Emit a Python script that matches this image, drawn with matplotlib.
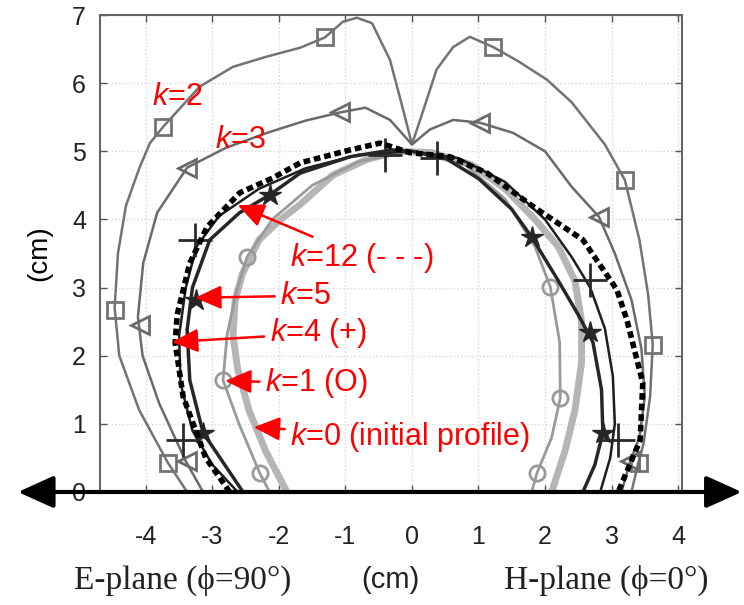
import matplotlib
matplotlib.use("Agg")
import matplotlib.pyplot as plt

plt.rcParams['font.family'] = ['Liberation Sans', 'DejaVu Sans']
plt.rcParams['mathtext.fontset'] = 'custom'
plt.rcParams['mathtext.rm'] = 'Liberation Sans'
plt.rcParams['mathtext.it'] = 'Liberation Sans:italic'
plt.rcParams['axes.unicode_minus'] = False

# profile curves (cm), left bottom -> top -> right bottom
k0_x = [-1.88, -2.2, -2.45, -2.62, -2.69, -2.66, -2.55, -2.3, -2.0, -1.68, -1.19, -0.68, -0.2,
        0.3, 0.9, 1.4, 1.85, 2.2, 2.45, 2.55, 2.55, 2.45, 2.3, 2.1]
k0_y = [0.0, 0.6, 1.2, 1.8, 2.3, 2.8, 3.2, 3.7, 3.98, 4.22, 4.65, 4.88, 5.0,
        4.98, 4.8, 4.45, 4.0, 3.6, 3.1, 2.5, 1.9, 1.2, 0.6, 0.0]

k1_x = [-2.14, -2.29, -2.6, -2.84, -2.78, -2.65, -2.48, -2.1, -1.5, -0.8, 0.0,
        0.8, 1.4, 1.85, 2.08, 2.22, 2.23, 2.1, 1.88, 1.8]
k1_y = [0.0, 0.28, 1.0, 1.64, 2.3, 2.9, 3.45, 4.0, 4.5, 4.85, 5.0,
        4.8, 4.3, 3.6, 3.01, 2.2, 1.38, 0.8, 0.28, 0.0]
k1_mx = [-2.29, -2.84, -2.48, 2.08, 2.23, 1.88]
k1_my = [0.28, 1.64, 3.45, 3.01, 1.38, 0.28]

k2_x = [-3.38, -3.67, -4.1, -4.4, -4.47, -4.42, -4.3, -4.1, -3.94, -3.74, -3.19, -2.69, -2.18,
        -1.68, -1.31, -1.04, -0.83, -0.6, -0.33, -0.13, 0.0, 0.17, 0.37, 0.62, 0.87, 1.22,
        1.6, 2.03, 2.4, 2.9, 3.2, 3.42, 3.55, 3.62, 3.58, 3.48, 3.4, 3.3]
k2_y = [0.0, 0.43, 1.2, 2.0, 2.7, 3.5, 4.2, 4.75, 5.12, 5.36, 5.95, 6.24, 6.39,
        6.52, 6.67, 6.9, 6.96, 6.88, 6.34, 5.6, 5.1, 5.6, 6.2, 6.53, 6.68, 6.53,
        6.32, 6.05, 5.72, 5.1, 4.58, 3.7, 2.9, 2.16, 1.4, 0.7, 0.42, 0.0]
k2_mx = [-3.67, -4.47, -3.74, -1.31, 1.22, 3.2, 3.62, 3.42]
k2_my = [0.43, 2.67, 5.36, 6.67, 6.53, 4.58, 2.16, 0.42]

k3_x = [-3.14, -3.4, -3.8, -4.05, -4.12, -4.04, -3.83, -3.38, -2.8, -2.18, -1.6, -1.08,
        -0.7, -0.33, 0.0, 0.27, 0.62, 1.02, 1.52, 2.0, 2.4, 2.81, 3.05, 3.3, 3.45,
        3.5, 3.42, 3.28, 3.15]
k3_y = [0.0, 0.45, 1.3, 2.0, 2.57, 3.36, 4.1, 4.76, 5.05, 5.27, 5.45, 5.57,
        5.64, 5.46, 5.1, 5.32, 5.46, 5.42, 5.27, 5.0, 4.48, 4.04, 3.5, 2.82, 2.1,
        1.4, 0.8, 0.45, 0.0]
k3_mx = [-3.38, -4.09, -3.38, -1.08, 1.02, 2.81, 3.28]
k3_my = [0.45, 2.45, 4.76, 5.57, 5.42, 4.04, 0.45]

k4_x = [-2.62, -3.0, -3.3, -3.48, -3.5, -3.4, -3.24, -2.9, -2.3, -1.6, -0.8, 0.0,
        0.7, 1.4, 2.0, 2.4, 2.68, 2.9, 3.02, 3.05, 2.98, 2.83]
k4_y = [0.0, 0.4, 0.9, 1.6, 2.3, 3.0, 3.6, 4.05, 4.45, 4.75, 4.95, 5.0,
        4.9, 4.55, 4.0, 3.45, 3.0, 2.4, 1.7, 1.0, 0.5, 0.0]
k4_mx = [-3.44, -3.26, -0.41, 0.37, 2.68, 3.1]
k4_my = [0.76, 3.7, 4.95, 4.9, 3.11, 0.76]

k5_x = [-2.54, -2.85, -3.14, -3.34, -3.38, -3.3, -3.04, -2.59, -2.14, -1.68, -0.93, -0.3,
        0.0, 0.5, 1.0, 1.5, 1.8, 2.2, 2.5, 2.72, 2.85, 2.87, 2.75, 2.57]
k5_y = [0.0, 0.45, 0.87, 1.64, 2.38, 3.0, 3.7, 4.1, 4.36, 4.68, 4.92, 5.02,
        5.0, 4.9, 4.6, 4.15, 3.74, 3.1, 2.6, 2.2, 1.5, 0.87, 0.4, 0.0]
k5_mx = [-3.14, -3.24, -2.14, 1.8, 2.68, 2.87]
k5_my = [0.87, 2.82, 4.36, 3.74, 2.35, 0.87]

k12_x = [-2.74, -3.1, -3.44, -3.56, -3.53, -3.34, -3.08, -2.59, -2.09, -1.68, -0.93, -0.48,
         -0.03, 0.57, 1.13, 1.82, 2.57, 3.08, 3.23, 3.47, 3.43, 3.13, 3.1]
k12_y = [0.0, 0.5, 1.4, 2.19, 2.6, 3.36, 3.89, 4.39, 4.61, 4.83, 5.02, 5.12,
         4.98, 4.92, 4.68, 4.19, 3.7, 2.97, 2.53, 1.6, 0.76, 0.07, 0.0]

xticks = [-4, -3, -2, -1, 0, 1, 2, 3, 4]
yticks = [0, 1, 2, 3, 4, 5, 6, 7]

fig = plt.figure(figsize=(7.44, 6.05), dpi=100)
ax = fig.add_axes([0.1344, 0.1868, 0.7823, 0.7884])

ax.plot(k0_x, k0_y, color='#b5b5b5', lw=5, solid_capstyle='butt')
ax.plot(k1_x, k1_y, color='#9a9a9a', lw=2)
ax.plot(k1_mx, k1_my, ls='none', marker='o', ms=11, mfc='none', mec='#9a9a9a', mew=2)
ax.plot(k2_x, k2_y, color='#737373', lw=1.8)
ax.plot(k2_mx, k2_my, ls='none', marker='s', ms=12, mfc='none', mec='#737373', mew=2)
ax.plot(k3_x, k3_y, color='#6a6a6a', lw=1.8)
ax.plot(k3_mx, k3_my, ls='none', marker='<', ms=13, mfc='none', mec='#6a6a6a', mew=2)
ax.plot(k4_x, k4_y, color='#1e1e1e', lw=1.8)
ax.plot(k4_mx, k4_my, ls='none', marker='+', ms=24, mec='#2a2a2a', mew=2)
ax.plot(k5_x, k5_y, color='#262626', lw=2.5)
ax.plot(k5_mx, k5_my, ls='none', marker='*', ms=16, mfc='#262626', mec='#262626')
ax.plot(k12_x, k12_y, color='black', lw=4, dashes=(1.2, 0.7))

ax.set_xlim(-4.69, 4.06)
ax.set_ylim(0, 7)
ax.set_xticks(xticks)
ax.set_yticks(yticks)
ax.grid(True, color='#d8d8d8', ls=':', lw=1)
ax.tick_params(direction='in', length=5, width=1, colors='#555555', labelcolor='#222222',
               labelsize=18, top=True, right=True)
ax.tick_params(axis='x', pad=24)
ax.tick_params(axis='y', pad=10)
for s in ['left', 'top', 'right']:
    ax.spines[s].set_color('#666666')
    ax.spines[s].set_linewidth(1.5)
ax.spines['bottom'].set_visible(False)
ax.set_ylabel('(cm)', fontsize=20, labelpad=14)

# horizontal axis with arrow heads at both ends
ax.annotate('', xy=(0.997, 0.1868), xytext=(0.024, 0.1868), xycoords='figure fraction',
            arrowprops=dict(arrowstyle='<|-|>,head_length=1.0,head_width=0.45',
                            color='black', lw=3, mutation_scale=22, shrinkA=0, shrinkB=0))

# red annotations
red = '#ff0000'
fs = 22
ax.text(-3.91, 5.8, r'$\mathit{k}$=2', color=red, fontsize=fs, va='center')
ax.text(-2.96, 5.17, r'$\mathit{k}$=3', color=red, fontsize=fs, va='center')
aprops = dict(arrowstyle='-|>,head_length=1.0,head_width=0.45', color=red, lw=1.8,
              mutation_scale=16, shrinkA=2, shrinkB=0)
ax.annotate(r'$\mathit{k}$=12 (- - -)', xy=(-2.62, 4.21), xytext=(-1.83, 3.44),
            color=red, fontsize=fs, va='center', arrowprops=aprops)
ax.annotate(r'$\mathit{k}$=5', xy=(-3.26, 2.85), xytext=(-1.98, 2.88),
            color=red, fontsize=fs, va='center', arrowprops=aprops)
ax.annotate(r'$\mathit{k}$=4 (+)', xy=(-3.61, 2.2), xytext=(-2.14, 2.33),
            color=red, fontsize=fs, va='center', arrowprops=aprops)
ax.annotate(r'$\mathit{k}$=1 (O)', xy=(-2.81, 1.63), xytext=(-2.21, 1.6),
            color=red, fontsize=fs, va='center', arrowprops=aprops)
ax.annotate(r'$\mathit{k}$=0 (initial profile)', xy=(-2.38, 0.95), xytext=(-1.83, 0.81),
            color=red, fontsize=fs, va='center', arrowprops=aprops)

# bottom captions
serif = ['Liberation Serif', 'DejaVu Serif']
fig.text(183 / 744, 1 - 580 / 605, 'E-plane (ϕ=90°)', family=serif, fontsize=24,
         ha='center', va='center', color='#222222')
fig.text(390 / 744, 1 - 580 / 605, '(cm)', fontsize=21, ha='center', va='center',
         color='#222222')
fig.text(606 / 744, 1 - 580 / 605, 'H-plane (ϕ=0°)', family=serif, fontsize=24,
         ha='center', va='center', color='#222222')

fig.savefig('out.png', dpi=100)
